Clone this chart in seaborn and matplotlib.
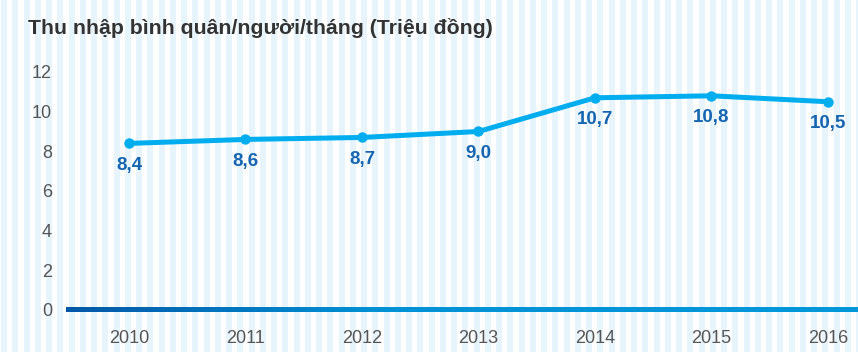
import numpy as np
import pandas as pd
import matplotlib
matplotlib.use("Agg")
import matplotlib.pyplot as plt
from matplotlib.colors import LinearSegmentedColormap
import seaborn as sns

# Monthly income per person (million VND)
years = [2010, 2011, 2012, 2013, 2014, 2015, 2016]
income = [8.4, 8.6, 8.7, 9.0, 10.7, 10.8, 10.5]
labels = ["8,4", "8,6", "8,7", "9,0", "10,7", "10,8", "10,5"]
yticks = [0, 2, 4, 6, 8, 10, 12]
title = "Thu nhập bình quân/người/tháng (Triệu đồng)"

sns.set_theme(style="white")
plt.rcParams["font.family"] = ["Liberation Sans", "DejaVu Sans"]

W, H, DPI = 858, 352, 100
fig = plt.figure(figsize=(W / DPI, H / DPI), dpi=DPI)
fig.patch.set_facecolor("white")

# striped backdrop across the whole figure
bg = fig.add_axes([0, 0, 1, 1], zorder=-10)
bg.set_xlim(0, W)
bg.set_ylim(0, H)
bg.axis("off")
period, stripe_w, start = 11.25, 6.0, 1.0
xs = np.arange(start, W, period)
bg.bar(xs, H, width=stripe_w, align="edge", color="#e8f4fc", linewidth=0)

# main plotting area, placed in pixel terms
left_px, right_px, top_px, bot_px = 66, 858, 50, 320
ax = fig.add_axes([left_px / W, 1 - bot_px / H, (right_px - left_px) / W, (bot_px - top_px) / H])
ax.set_facecolor("none")
ppu = (310 - 72) / 12.0
ax.set_ylim(-(bot_px - 310) / ppu, 12 + (72 - top_px) / ppu)
step = (828 - 129) / 6.0
ax.set_xlim(2010 - (129 - left_px) / step, 2016 + (right_px - 828) / step)

df = pd.DataFrame({"year": years, "income": income})
sns.lineplot(data=df, x="year", y="income", ax=ax, color="#00adef",
             linewidth=3.6, marker="o", markersize=7.5,
             markeredgewidth=0, zorder=3)

for x, y, s in zip(years, income, labels):
    ax.annotate(s, (x, y), xytext=(0, -22), textcoords="offset pixels",
                ha="center", va="center", fontsize=13.5, fontweight="bold",
                color="#1565b0")

# gradient baseline at zero
x0, x1 = ax.get_xlim()
half = 2.3 / ppu
cmap = LinearSegmentedColormap.from_list(
    "base", [(0, "#0058a8"), (0.4, "#0092d6"), (1, "#0098db")])
grad = np.linspace(0, 1, 512).reshape(1, -1)
ax.imshow(grad, cmap=cmap, extent=(x0, x1, -half, half), aspect="auto",
          interpolation="bilinear", zorder=2)
ax.set_xlim(x0, x1)
ax.set_ylim(-(bot_px - 310) / ppu, 12 + (72 - top_px) / ppu)

ax.set_yticks(yticks)
ax.set_yticklabels([str(v) for v in yticks])
ax.set_xticks(years)
ax.set_xticklabels([str(v) for v in years])
ax.tick_params(axis="both", length=0, labelsize=13, labelcolor="#555555")
ax.tick_params(axis="y", pad=10)
ax.tick_params(axis="x", pad=7)
for sp in ax.spines.values():
    sp.set_visible(False)
ax.set_xlabel("")
ax.set_ylabel("")
ax.grid(False)

fig.text(28 / W, 1 - 28 / H, title, ha="left", va="center",
         fontsize=15.3, fontweight="bold", color="#333333")

fig.savefig("out.png", dpi=DPI, facecolor="white")
